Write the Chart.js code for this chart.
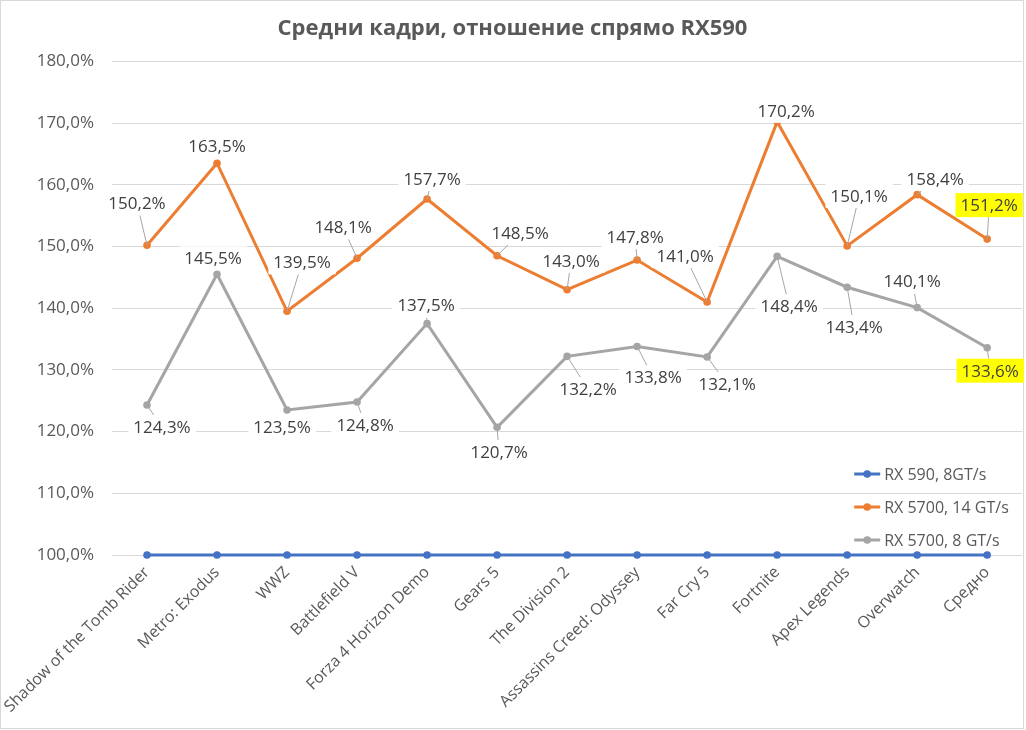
<!DOCTYPE html>
<html>
<head>
<meta charset="utf-8">
<title>Средни кадри</title>
<script src="https://cdn.jsdelivr.net/npm/chart.js@4.4.0/dist/chart.umd.min.js"></script>
<style>
  html, body { margin: 0; padding: 0; background: #fff; }
  #wrap { width: 1026px; height: 730px; position: relative; }
</style>
</head>
<body>
<div id="wrap"><canvas id="chart"></canvas></div>
<script>
// chart data
const games = [
  "Shadow of the Tomb Rider", "Metro: Exodus", "WWZ", "Battlefield V",
  "Forza 4 Horizon Demo", "Gears 5", "The Division 2", "Assassins Creed: Odyssey",
  "Far Cry 5", "Fortnite", "Apex Legends", "Overwatch", "Средно"
];
const rx590 = [100, 100, 100, 100, 100, 100, 100, 100, 100, 100, 100, 100, 100];
const rx5700fast = [150.2, 163.5, 139.5, 148.1, 157.7, 148.5, 143.0, 147.8, 141.0, 170.2, 150.1, 158.4, 151.2];
const rx5700slow = [124.3, 145.5, 123.5, 124.8, 137.5, 120.7, 132.2, 133.8, 132.1, 148.4, 143.4, 140.1, 133.6];
const seriesNames = ["RX 590, 8GT/s", "RX 5700, 14 GT/s", "RX 5700, 8 GT/s"];
const yMin = 100, yMax = 180, yStep = 10;

// where each value label sits relative to its point (px)
const fastLabelOffsets = [[-10,-42],[0,-17],[15,-49],[-14,-31],[5,-20],[23,-23],[4,-29],[-2,-23],[-22,-46],[9,-11],[12,-50],[18,-16],[2,-34]];
const slowLabelOffsets = [[15,22],[-4,-16],[-5,17],[8,23],[-1,-18],[2,25],[21,33],[16,31],[20,27],[12,50],[7,40],[-5,-26],[3,23]];

const valueText = v => v.toFixed(1).replace('.', ',') + '%';

Chart.defaults.font.family = '"Open Sans", sans-serif';
Chart.defaults.color = '#595959';

// white page with the thin frame round it
const framePlugin = {
  id: 'frame',
  beforeDraw(chart) {
    const ctx = chart.ctx;
    ctx.save();
    ctx.fillStyle = '#fff';
    ctx.fillRect(0, 0, chart.width, chart.height);
    ctx.strokeStyle = '#d9d9d9';
    ctx.lineWidth = 1;
    ctx.strokeRect(0.5, 0.5, chart.width - 3, chart.height - 2);
    ctx.restore();
  }
};

// value labels with leader lines, last one highlighted
const labelPlugin = {
  id: 'valueLabels',
  afterDatasetsDraw(chart) {
    const ctx = chart.ctx;
    ctx.save();
    ctx.font = '17px "Open Sans"';
    ctx.textAlign = 'center';
    ctx.textBaseline = 'middle';
    chart.data.datasets.forEach((ds, di) => {
      const offs = ds.labelOffsets;
      if (!offs) return;
      const meta = chart.getDatasetMeta(di);
      const last = meta.data.length - 1;
      meta.data.forEach((pt, i) => {
        const txt = valueText(ds.data[i]);
        const dx = offs[i][0], dy = offs[i][1];
        const cx = pt.x + dx, cy = pt.y + dy;
        const w = ctx.measureText(txt).width + 10, h = 24;
        const left = cx - w / 2, top = cy - h / 2;
        // leader runs from the point towards the label centre, stops at its box
        const t = Math.min(w / 2 / Math.max(Math.abs(dx), 0.001), h / 2 / Math.max(Math.abs(dy), 0.001));
        const ex = cx - dx * t, ey = cy - dy * t;
        if (t < 1 && Math.hypot(ex - pt.x, ey - pt.y) > 6) {
          ctx.strokeStyle = '#a6a6a6';
          ctx.lineWidth = 1;
          ctx.beginPath();
          ctx.moveTo(pt.x, pt.y);
          ctx.lineTo(ex, ey);
          ctx.stroke();
        }
        ctx.fillStyle = i === last ? '#ffff00' : '#ffffff';
        ctx.fillRect(left, top, w, h);
        ctx.fillStyle = '#404040';
        ctx.fillText(txt, cx, cy + 1);
      });
    });
    ctx.restore();
  }
};

// legend sitting inside the plot, bottom right
const legendPlugin = {
  id: 'innerLegend',
  afterDraw(chart) {
    const ctx = chart.ctx;
    const area = chart.chartArea;
    const x0 = area.right - 168;
    let y = area.bottom - 81;
    ctx.save();
    ctx.font = '16px "Open Sans"';
    ctx.textAlign = 'left';
    ctx.textBaseline = 'middle';
    chart.data.datasets.forEach(ds => {
      ctx.strokeStyle = ds.borderColor;
      ctx.lineWidth = 3;
      ctx.beginPath();
      ctx.moveTo(x0, y);
      ctx.lineTo(x0 + 26, y);
      ctx.stroke();
      ctx.fillStyle = ds.borderColor;
      ctx.beginPath();
      ctx.arc(x0 + 13, y, 3.8, 0, Math.PI * 2);
      ctx.fill();
      ctx.fillStyle = '#595959';
      ctx.fillText(ds.label, x0 + 30, y + 1);
      y += 33;
    });
    ctx.restore();
  }
};

function lineSet(label, data, color, offsets) {
  return {
    label: label,
    data: data,
    borderColor: color,
    backgroundColor: color,
    borderWidth: 3,
    pointRadius: 3.8,
    pointHoverRadius: 3.8,
    pointBorderWidth: 0,
    tension: 0,
    clip: false,
    labelOffsets: offsets
  };
}

new Chart(document.getElementById('chart'), {
  type: 'line',
  data: {
    labels: games,
    datasets: [
      lineSet(seriesNames[0], rx590, '#4472c4', null),
      lineSet(seriesNames[1], rx5700fast, '#ed7d31', fastLabelOffsets),
      lineSet(seriesNames[2], rx5700slow, '#a5a5a5', slowLabelOffsets)
    ]
  },
  options: {
    responsive: true,
    maintainAspectRatio: false,
    animation: false,
    events: [],
    layout: { padding: { left: 0, right: 1, top: 0, bottom: 0 } },
    plugins: {
      legend: { display: false },
      tooltip: { enabled: false },
      title: {
        display: true,
        text: 'Средни кадри, отношение спрямо RX590',
        color: '#595959',
        font: { size: 22, weight: 'bold' },
        padding: { top: 16, bottom: 19 }
      }
    },
    scales: {
      x: {
        offset: true,
        grid: { display: false, drawTicks: false },
        border: { display: false },
        ticks: {
          autoSkip: false,
          minRotation: 45,
          maxRotation: 45,
          padding: 8,
          color: '#595959',
          font: { size: 16 }
        },
        afterFit(scale) {
          scale.height = 175;
          // the long first label may run out to the left, as in the original
          scale.paddingLeft = 0;
          scale.paddingRight = 0;
        }
      },
      y: {
        min: yMin,
        max: yMax,
        grid: { color: '#d9d9d9', lineWidth: 1, drawTicks: false },
        border: { display: false },
        ticks: {
          stepSize: yStep,
          padding: 18,
          color: '#595959',
          font: { size: 17 },
          callback: v => valueText(v)
        },
        afterFit(scale) { scale.width = 112; }
      }
    }
  },
  plugins: [framePlugin, labelPlugin, legendPlugin]
});
</script>
</body>
</html>
